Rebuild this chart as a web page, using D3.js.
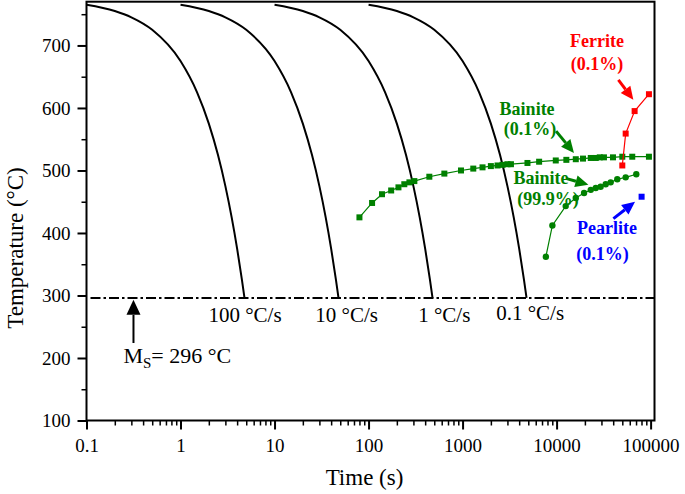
<!DOCTYPE html>
<html>
<head>
<meta charset="utf-8">
<script src="https://cdn.jsdelivr.net/npm/d3@7"></script>
<style>
  body { margin: 0; background: #fff; }
  svg text { font-family: "Liberation Serif", "Times New Roman", serif; }
</style>
</head>
<body>
<div id="chart"></div>
<script>
// Cooling curves (temperatures shared, times per cooling rate)
const coolTemps = [765, 755, 745, 725, 675, 625, 575, 525, 475, 425, 375, 325, 296];
const time100 = [0.1, 0.2, 0.3, 0.5, 1, 1.5, 2, 2.5, 3, 3.5, 4, 4.5, 4.79];
const time10 = [1, 2, 3, 5, 10, 15, 20, 25, 30, 35, 40, 45, 47.9];
const time1 = [10, 20, 30, 50, 100, 150, 200, 250, 300, 350, 400, 450, 479];
const time01 = [100, 200, 300, 500, 1000, 1500, 2000, 2500, 3000, 3500, 4000, 4500, 4790];
const rateLabels = ["100 °C/s", "10 °C/s", "1 °C/s", "0.1 °C/s"];

// Bainite start (0.1%)
const bainiteStartTime = [80, 109, 139, 174, 208, 240, 272, 307, 443, 640, 962, 1300, 1630, 2000, 2355, 2660,
  3000, 3270, 4900, 6520, 9800, 12700, 16000, 19100, 23100, 26100, 28800, 31900, 39800, 50000, 63800, 96000];
const bainiteStartTemp = [425, 448, 462, 468, 473, 478, 481, 483, 490, 495, 500, 503, 505, 507, 508, 509,
  510, 510, 512, 514, 516, 517, 518, 519, 520, 520, 521, 521, 521, 522, 522, 522];

// Bainite finish (99.9%)
const bainiteEndTime = [7690, 9020, 12500, 16000, 19600, 23100, 26100, 29400, 33300, 37600, 44200, 54300, 70400];
const bainiteEndTemp = [362, 412, 443, 456, 464, 469, 472, 474, 478, 481, 486, 489, 494];

// Ferrite (0.1%) and Pearlite (0.1%)
const ferriteTime = [50000, 54300, 67600, 96000];
const ferriteTemp = [508, 559, 595, 622];
const pearliteTime = [80200];
const pearliteTemp = [458];

const msTemp = 296;

const xTicks = [0.1, 1, 10, 100, 1000, 10000, 100000];
const xTickLabels = ["0.1", "1", "10", "100", "1000", "10000", "100000"];
const yTicks = [100, 200, 300, 400, 500, 600, 700];
const yMinorTicks = [150, 250, 350, 450, 550, 650, 750];

const W = 685, H = 494;
const m = { left: 86.5, right: 654.5, top: 1.7, bottom: 420.5 };

const svg = d3.select("#chart").append("svg")
  .attr("width", W)
  .attr("height", H);

const x = d3.scaleLog().domain([0.1, 110000]).range([m.left, m.right]);
const y = d3.scaleLinear().domain([100, 770]).range([m.bottom, m.top]);

// minor x ticks (2..9 of each decade)
const xMinor = [];
xTicks.slice(0, -1).forEach(d => {
  for (let k = 2; k <= 9; k++) xMinor.push(d * k);
});

// x axis
svg.append("g")
  .attr("transform", `translate(0,${m.bottom})`)
  .call(d3.axisBottom(x).tickValues(xMinor).tickSize(5).tickFormat(""))
  .call(g => g.select(".domain").remove())
  .call(g => g.selectAll("line").attr("stroke-width", 1.5));

svg.append("g")
  .attr("transform", `translate(0,${m.bottom})`)
  .call(d3.axisBottom(x).tickValues(xTicks).tickSize(9).tickPadding(9)
    .tickFormat((d, i) => xTickLabels[i]))
  .call(g => g.select(".domain").remove())
  .call(g => g.selectAll("line").attr("stroke-width", 2))
  .call(g => g.selectAll("text").attr("font-size", 19).attr("fill", "#000")
    .style("font-family", "'Liberation Serif', serif"));

// y axis
svg.append("g")
  .attr("transform", `translate(${m.left},0)`)
  .call(d3.axisLeft(y).tickValues(yMinorTicks.filter(d => d < 770)).tickSize(5).tickFormat(""))
  .call(g => g.select(".domain").remove())
  .call(g => g.selectAll("line").attr("stroke-width", 1.5));

svg.append("g")
  .attr("transform", `translate(${m.left},0)`)
  .call(d3.axisLeft(y).tickValues(yTicks).tickSize(9).tickPadding(7))
  .call(g => g.select(".domain").remove())
  .call(g => g.selectAll("line").attr("stroke-width", 2))
  .call(g => g.selectAll("text").attr("font-size", 19).attr("fill", "#000")
    .style("font-family", "'Liberation Serif', serif"));

// frame
svg.append("rect")
  .attr("x", m.left).attr("y", m.top)
  .attr("width", m.right - m.left).attr("height", m.bottom - m.top)
  .attr("fill", "none").attr("stroke", "#000").attr("stroke-width", 2);

// axis titles
svg.append("text")
  .attr("x", (m.left + m.right) / 2 - 6)
  .attr("y", 485)
  .attr("text-anchor", "middle")
  .attr("font-size", 23)
  .text("Time (s)");

svg.append("text")
  .attr("transform", "rotate(-90)")
  .attr("x", -248)
  .attr("y", 23)
  .attr("text-anchor", "middle")
  .attr("font-size", 23)
  .text("Temperature (°C)");

// Ms line
svg.append("line")
  .attr("x1", m.left + 4).attr("x2", m.right)
  .attr("y1", y(msTemp)).attr("y2", y(msTemp))
  .attr("stroke", "#000").attr("stroke-width", 2)
  .attr("stroke-dasharray", "10,3,2.5,3");

// cooling curves
const line = d3.line()
  .x(d => x(d[0]))
  .y(d => y(d[1]))
  .curve(d3.curveMonotoneX);

const coolTimes = [time100, time10, time1, time01];
coolTimes.forEach(times => {
  svg.append("path")
    .datum(times.map((t, i) => [t, coolTemps[i]]))
    .attr("fill", "none")
    .attr("stroke", "#000")
    .attr("stroke-width", 2)
    .attr("d", line);
});

// rate labels
const rateLabelPos = [[1.98, 258], [27.1, 258], [337, 258], [2280, 261]];
rateLabels.forEach((txt, i) => {
  svg.append("text")
    .attr("x", x(rateLabelPos[i][0]))
    .attr("y", y(rateLabelPos[i][1]))
    .attr("font-size", 21)
    .text(txt);
});

// phase lines
const lineLin = d3.line().x(d => x(d[0])).y(d => y(d[1]));
const green = "#008000", red = "#ff0000", blue = "#0000ff";

function series(times, temps, color, shape) {
  const pts = times.map((t, i) => [t, temps[i]]);
  if (pts.length > 1) {
    svg.append("path")
      .datum(pts)
      .attr("fill", "none")
      .attr("stroke", color)
      .attr("stroke-width", 1.2)
      .attr("d", lineLin);
  }
  if (shape === "square") {
    svg.selectAll(null)
      .data(pts)
      .enter().append("rect")
      .attr("x", d => x(d[0]) - 3)
      .attr("y", d => y(d[1]) - 3)
      .attr("width", 6).attr("height", 6)
      .attr("fill", color);
  } else {
    svg.selectAll(null)
      .data(pts)
      .enter().append("circle")
      .attr("cx", d => x(d[0]))
      .attr("cy", d => y(d[1]))
      .attr("r", 3.2)
      .attr("fill", color);
  }
}

series(bainiteStartTime, bainiteStartTemp, green, "square");
series(bainiteEndTime, bainiteEndTemp, green, "circle");
series(ferriteTime, ferriteTemp, red, "square");
series(pearliteTime, pearliteTemp, blue, "square");

// arrows
function arrow(t1, T1, t2, T2, color, width, headLen, headW) {
  const x1 = x(t1), y1 = y(T1), x2 = x(t2), y2 = y(T2);
  const ang = Math.atan2(y2 - y1, x2 - x1);
  const bx = x2 - headLen * Math.cos(ang), by = y2 - headLen * Math.sin(ang);
  const px = -Math.sin(ang) * headW / 2, py = Math.cos(ang) * headW / 2;
  svg.append("line")
    .attr("x1", x1).attr("y1", y1).attr("x2", bx).attr("y2", by)
    .attr("stroke", color).attr("stroke-width", width);
  svg.append("path")
    .attr("d", `M${x2},${y2}L${bx + px},${by + py}L${bx - px},${by - py}Z`)
    .attr("fill", color);
}

arrow(45400, 645, 65500, 613, red, 3, 13, 12);
arrow(9880, 563, 15300, 528, green, 3, 13, 12);
arrow(12800, 487, 21800, 477, green, 3, 13, 12);
arrow(40200, 423, 68300, 450, blue, 3, 13, 12);
arrow(0.316, 224, 0.316, 293, "#000", 2, 15, 14);

// phase labels
const phaseLabels = [
  { text: "Ferrite", t: 26900, T: 698, color: red },
  { text: "(0.1%)", t: 26900, T: 661, color: red },
  { text: "Bainite", t: 4860, T: 589, color: green },
  { text: "(0.1%)", t: 5230, T: 557, color: green },
  { text: "Bainite", t: 6840, T: 478, color: green },
  { text: "(99.9%)", t: 8120, T: 445, color: green },
  { text: "Pearlite", t: 34400, T: 398, color: blue },
  { text: "(0.1%)", t: 30800, T: 357, color: blue }
];
phaseLabels.forEach(d => {
  svg.append("text")
    .attr("x", x(d.t))
    .attr("y", y(d.T))
    .attr("text-anchor", "middle")
    .attr("font-size", 18)
    .attr("font-weight", "bold")
    .attr("fill", d.color)
    .text(d.text);
});

// Ms label
const ms = svg.append("text")
  .attr("x", x(0.247))
  .attr("y", y(192))
  .attr("font-size", 22);
ms.append("tspan").text("M");
ms.append("tspan").attr("font-size", 15).attr("dy", 5).text("S");
ms.append("tspan").attr("dy", -5).text("= 296 °C");
</script>
</body>
</html>
